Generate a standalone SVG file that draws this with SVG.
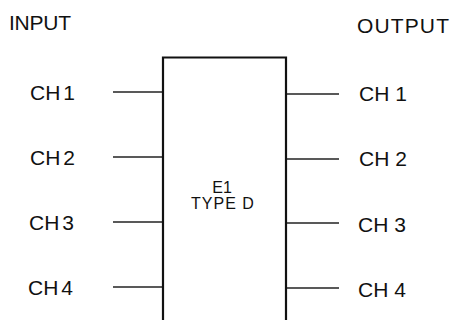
<svg xmlns="http://www.w3.org/2000/svg" width="454" height="320" viewBox="0 0 454 320">
<style>
text{font-family:"Liberation Sans",Arial,sans-serif;fill:#111}
.h{font-size:21px}
.lbl{font-size:21px}
.l{word-spacing:-3px}
.c{stroke:#222;stroke-width:1.4;fill:none}
.box{stroke:#111;stroke-width:2.2;fill:#fff}
.in{font-size:16px;text-anchor:middle}
</style>
<rect width="454" height="320" fill="#fff"/>
<g id="connectors">
<line class="c" x1="113" y1="92" x2="163" y2="92"/>
<line class="c" x1="113" y1="157" x2="163" y2="157"/>
<line class="c" x1="113" y1="222" x2="163" y2="222"/>
<line class="c" x1="113" y1="287" x2="163" y2="287"/>
<line class="c" x1="286" y1="94" x2="339" y2="94"/>
<line class="c" x1="286" y1="159" x2="339" y2="159"/>
<line class="c" x1="286" y1="223" x2="339" y2="223"/>
<line class="c" x1="286" y1="288" x2="339" y2="288"/>
</g>
<g id="box">
<path class="box" d="M163,330 V57.5 H286 V330"/>
<text class="in" x="222" y="193">E1</text>
<text class="in" x="223" y="209" letter-spacing="1">TYPE D</text>
</g>
<g id="input">
<text class="h" x="9" y="30" textLength="62">INPUT</text>
<text class="lbl l" x="30" y="100">CH 1</text>
<text class="lbl l" x="30" y="165">CH 2</text>
<text class="lbl l" x="29" y="230">CH 3</text>
<text class="lbl l" x="28" y="295">CH 4</text>
</g>
<g id="output">
<text class="h" x="357" y="33" textLength="92">OUTPUT</text>
<text class="lbl" x="359" y="101">CH 1</text>
<text class="lbl" x="359" y="166">CH 2</text>
<text class="lbl" x="358" y="232">CH 3</text>
<text class="lbl" x="358" y="297">CH 4</text>
</g>
</svg>
